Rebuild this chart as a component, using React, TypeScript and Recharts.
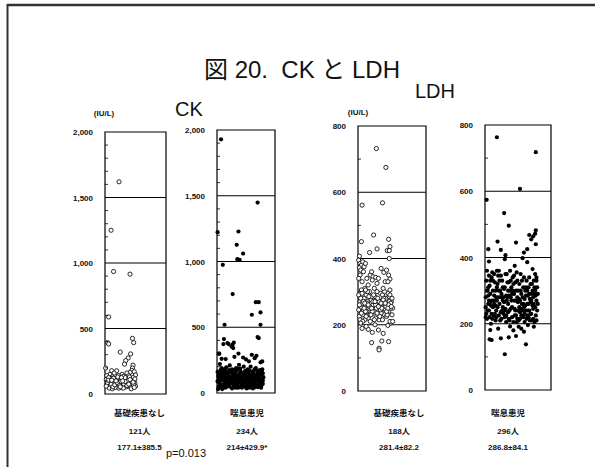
import React from 'react';
import {
  ScatterChart,
  Scatter,
  XAxis,
  YAxis,
  ReferenceLine,
  ReferenceArea,
} from 'recharts';

// [横位置(0-100), 値]
const ckNone: [number, number][] = [
  [23, 1620], [10, 1250], [14, 935], [41, 915], [6, 588], [4, 392], [6, 382], [45, 425], [47, 392], [25, 320],
  [42, 306], [38, 275], [34, 255], [32, 228], [46, 220], [45, 198], [1, 198], [11, 178], [19, 177], [44, 180],
  [41, 165], [48, 170], [36, 160], [28, 150], [8, 150], [15, 160], [22, 140], [30, 135], [3, 140], [12, 130],
  [39, 140], [50, 145],
  [2, 110], [5, 95], [7, 80], [9, 120], [11, 70], [13, 100], [15, 85], [17, 115], [19, 60], [21, 95],
  [23, 75], [25, 110], [27, 90], [29, 65], [31, 105], [33, 80], [35, 120], [37, 70], [39, 95], [41, 85],
  [43, 110], [45, 60], [47, 100], [49, 80],
  [3, 70], [6, 125], [8, 55], [10, 90], [12, 110], [14, 65], [16, 95], [18, 80], [20, 120], [22, 55],
  [24, 100], [26, 70], [28, 115], [30, 85], [32, 60], [34, 100], [36, 90], [38, 120], [40, 65], [42, 95],
  [44, 75], [46, 125], [48, 105], [50, 60],
  [4, 85], [7, 45], [9, 100], [12, 40], [14, 120], [17, 50], [19, 105], [21, 130], [23, 45], [26, 95],
  [28, 50], [31, 75], [33, 125], [35, 55], [37, 100], [40, 130], [42, 50], [44, 100], [47, 70], [49, 115],
  [2, 60], [5, 105], [10, 75], [13, 55], [16, 70], [20, 85], [24, 65], [27, 125], [30, 45], [33, 95],
  [36, 65], [39, 75], [43, 40], [46, 90], [48, 50], [18, 100], [29, 100], [41, 110], [11, 105], [25, 55],
];

const ckAsthma: [number, number][] = [
  [7, 1929], [70, 1448], [1, 1223], [37, 1228], [34, 1127], [45, 1061], [35, 1018], [39, 1013], [10, 975], [27, 752],
  [67, 691], [72, 691], [60, 595], [75, 613], [13, 519], [75, 519], [70, 425], [12, 410], [11, 372], [20, 372],
  [27, 368], [28, 342], [3, 299], [37, 300], [18, 380], [29, 384], [25, 353], [72, 418], [4, 299], [60, 290],
  [68, 283], [75, 233], [55, 241], [15, 258], [78, 240], [45, 270], [50, 255], [65, 265], [30, 275], [8, 260],
  [1, 90], [4, 150], [7, 60], [10, 120], [13, 180], [16, 45], [19, 100], [22, 210], [25, 75], [28, 140],
  [31, 55], [34, 170], [37, 95], [40, 130], [43, 40], [46, 200], [49, 110], [52, 65], [55, 155], [58, 85],
  [61, 125], [64, 50], [67, 190], [70, 100], [73, 70], [76, 145], [79, 95],
  [2, 130], [5, 70], [8, 190], [11, 100], [14, 40], [17, 160], [20, 85], [23, 120], [26, 35], [29, 175],
  [32, 110], [35, 60], [38, 215], [41, 90], [44, 150], [47, 50], [50, 125], [53, 180], [56, 40], [59, 105],
  [62, 165], [65, 75], [68, 130], [71, 45], [74, 175], [77, 60], [80, 120],
  [3, 50], [6, 175], [9, 95], [12, 65], [15, 140], [18, 110], [21, 50], [24, 160], [27, 90], [30, 125],
  [33, 70], [36, 185], [39, 45], [42, 115], [45, 80], [48, 165], [51, 35], [54, 130], [57, 95], [60, 60],
  [63, 150], [66, 100], [69, 55], [72, 160], [75, 85], [78, 180],
  [1, 160], [4, 105], [7, 125], [10, 55], [13, 80], [16, 195], [19, 140], [22, 70], [25, 115], [28, 60],
  [31, 150], [34, 90], [37, 50], [40, 185], [43, 120], [46, 75], [49, 155], [52, 100], [55, 55], [58, 200],
  [61, 80], [64, 140], [67, 110], [70, 150], [73, 125], [76, 40], [79, 150],
  [2, 85], [5, 220], [8, 140], [11, 160], [14, 95], [17, 70], [20, 150], [23, 90], [26, 180], [29, 110],
  [32, 40], [35, 135], [38, 80], [41, 160], [44, 65], [47, 140], [50, 90], [53, 55], [56, 170], [59, 135],
  [62, 35], [65, 180], [68, 85], [71, 120], [74, 100], [77, 165],
  [3, 115], [6, 45], [9, 165], [12, 140], [15, 60], [18, 125], [21, 175], [24, 105], [27, 130], [30, 75],
  [33, 190], [36, 110], [39, 150], [42, 60], [45, 105], [48, 85], [51, 150], [54, 75], [57, 130], [60, 110],
  [63, 95], [66, 45], [69, 170], [72, 85], [75, 135], [78, 100],
  [2, 30], [9, 30], [14, 115], [21, 120], [26, 150], [31, 95], [36, 40], [44, 95], [50, 170], [55, 115],
  [61, 145], [66, 130], [73, 50], [79, 70], [6, 100], [17, 130], [28, 95], [40, 105], [53, 145], [64, 95],
];

const ldhNone: [number, number][] = [
  [27, 732], [41, 675], [6, 561], [36, 568], [23, 471], [5, 451], [45, 458], [47, 436], [43, 424], [46, 424],
  [28, 429], [17, 418], [46, 400], [2, 407],
  [6, 189], [15, 186], [21, 177], [30, 184], [37, 174], [20, 146], [35, 151], [45, 149], [31, 129], [31, 124],
  [44, 198], [48, 205], [12, 195], [25, 200],
  [1, 395], [3, 385], [5, 380], [2, 372], [4, 365], [7, 390], [9, 375], [11, 385], [8, 360], [3, 350],
  [1, 340], [6, 330], [13, 340], [18, 350], [22, 345], [26, 343], [21, 335], [30, 340], [34, 370], [38, 358],
  [42, 365], [45, 350], [47, 338], [40, 330], [28, 325], [15, 320], [10, 310], [5, 305], [44, 330], [20, 360],
  [1, 290], [3, 270], [5, 250], [7, 230], [9, 280], [11, 260], [13, 240], [15, 220], [17, 300], [19, 275],
  [21, 255], [23, 235], [25, 285], [27, 265], [29, 245], [31, 215], [33, 295], [35, 270], [37, 250], [39, 230],
  [41, 280], [43, 260], [45, 240], [47, 210], [49, 270], [51, 250],
  [2, 225], [4, 280], [6, 265], [8, 245], [10, 215], [12, 290], [14, 270], [16, 250], [18, 230], [20, 285],
  [22, 260], [24, 240], [26, 220], [28, 300], [30, 275], [32, 255], [34, 235], [36, 290], [38, 265], [40, 245],
  [42, 225], [44, 295], [46, 270], [48, 250], [50, 230],
  [1, 245], [3, 215], [6, 295], [8, 270], [11, 240], [13, 265], [16, 285], [18, 210], [21, 240], [23, 290],
  [26, 260], [28, 235], [31, 270], [33, 245], [36, 215], [38, 280], [41, 255], [43, 230], [46, 285], [48, 265],
  [51, 210],
  [2, 260], [5, 235], [7, 210], [10, 265], [12, 225], [14, 300], [17, 255], [19, 230], [22, 270], [24, 215],
  [27, 250], [29, 280], [32, 225], [35, 250], [37, 275], [39, 300], [42, 240], [45, 260], [47, 290], [50, 280],
  [4, 205], [9, 250], [15, 260], [20, 250], [25, 270], [30, 255], [34, 265], [40, 265], [44, 250], [49, 255],
  [11, 305], [24, 310], [37, 310], [47, 305],
];

const ldhAsthma: [number, number][] = [
  [18, 763], [77, 718], [53, 607], [2.5, 574], [29, 534], [36, 496], [77, 482], [76, 472], [73, 464], [67, 468],
  [70, 455], [77, 440], [19, 448], [47, 445], [5, 425], [24, 423], [59, 415], [64, 425], [31, 407], [57, 398],
  [64, 386], [6, 388], [30, 395], [45, 375], [72, 365], [76, 350], [78, 340],
  [8, 181], [10, 151], [7, 153], [24, 156], [36, 159], [30, 108], [62, 138], [47, 163], [59, 176], [65, 196],
  [74, 191], [51, 191], [38, 192], [20, 185], [55, 185], [43, 180],
  [1, 250], [4, 300], [7, 220], [10, 340], [13, 270], [16, 210], [19, 320], [22, 260], [25, 290], [28, 230],
  [31, 350], [34, 280], [37, 240], [40, 310], [43, 205], [46, 270], [49, 330], [52, 250], [55, 290], [58, 220],
  [61, 300], [64, 260], [67, 340], [70, 230], [73, 280], [76, 250], [79, 310],
  [2, 330], [5, 260], [8, 290], [11, 215], [14, 350], [17, 240], [20, 280], [23, 210], [26, 330], [29, 265],
  [32, 225], [35, 300], [38, 360], [41, 250], [44, 290], [47, 225], [50, 300], [53, 215], [56, 260], [59, 340],
  [62, 240], [65, 285], [68, 210], [71, 320], [74, 260], [77, 225], [80, 290],
  [3, 215], [6, 345], [9, 255], [12, 300], [15, 230], [18, 360], [21, 225], [24, 345], [27, 250], [30, 310],
  [33, 270], [36, 215], [39, 280], [42, 340], [45, 245], [48, 205], [51, 275], [54, 350], [57, 240], [60, 275],
  [63, 215], [66, 310], [69, 265], [72, 300], [75, 205], [78, 270],
  [1, 280], [4, 240], [7, 315], [10, 270], [13, 225], [16, 300], [19, 250], [22, 330], [25, 215], [28, 280],
  [31, 245], [34, 325], [37, 210], [40, 270], [43, 320], [46, 240], [49, 280], [52, 320], [55, 225], [58, 310],
  [61, 255], [64, 225], [67, 290], [70, 270], [73, 215], [76, 300], [79, 240],
  [2, 230], [5, 310], [8, 265], [11, 355], [14, 285], [17, 220], [20, 345], [23, 280], [26, 240], [29, 305],
  [32, 285], [35, 235], [38, 300], [41, 220], [44, 345], [47, 300], [50, 240], [53, 270], [56, 330], [59, 250],
  [62, 310], [65, 240], [68, 275], [71, 210], [74, 330], [77, 285],
  [3, 300], [6, 240], [9, 200], [12, 250], [15, 325], [18, 270], [21, 300], [24, 235], [27, 310], [30, 220],
  [33, 350], [36, 285], [39, 245], [42, 300], [45, 225], [48, 355], [51, 210], [54, 300], [57, 280], [60, 205],
  [63, 330], [66, 260], [69, 230], [72, 255], [75, 290], [78, 210],
  [1, 220], [5, 285], [10, 230], [14, 260], [18, 310], [23, 300], [27, 270], [32, 205], [36, 325], [41, 290],
  [46, 325], [50, 265], [55, 245], [60, 230], [64, 300], [69, 320], [73, 245], [78, 330], [8, 330], [17, 280],
  [26, 280], [39, 330], [58, 260], [67, 240],
  [3, 360], [12, 330], [21, 360], [30, 240], [44, 270], [53, 235], [62, 285], [71, 290], [80, 260], [6, 270],
  [16, 255], [35, 260], [49, 215], [66, 220], [75, 310],
];

const groupNames = ['基礎疾患なし', '喘息患児', '基礎疾患なし', '喘息患児'];
const groupCounts = ['121人', '234人', '188人', '296人'];
const groupMeans = ['177.1±385.5', '214±429.9*', '281.4±82.2', '286.8±84.1'];

const ckTicks = [0, 100, 200, 300, 400, 500, 600, 700, 800, 900, 1000, 1100, 1200, 1300, 1400, 1500, 1600, 1700, 1800, 1900, 2000];
const ldhTicks = [0, 100, 200, 300, 400, 500, 600, 700, 800];

const FONT = '"Liberation Sans", Arial, "Noto Sans CJK JP", sans-serif';
const LABEL_Y = [416, 434, 450];
const PAD_L = 50;
const PAD_T = 10;

interface PanelProps {
  points: [number, number][];
  filled: boolean;
  idx: number;
  boxX: number;
  boxY: number;
  boxW: number;
  boxH: number;
  yMax: number;
  major: number;
  ticks: number[];
  labelShift: number;
}

function Panel({ points, filled, idx, boxX, boxY, boxW, boxH, yMax, major, ticks, labelShift }: PanelProps) {
  const data = points.map(([x, y]) => ({ x, y }));
  const width = PAD_L + boxW + 10;
  const height = PAD_T + boxH + 80;
  const bottom = boxY + boxH;

  const yTick = (props: any) => {
    const { x, y, payload } = props;
    const v = payload.value;
    return (
      <g>
        {v !== 0 && v !== yMax && v % major !== 0 && (
          <line x1={x} x2={x + 3} y1={y} y2={y} stroke="#000" strokeWidth={0.8} />
        )}
        {v % major === 0 && (
          <text x={x - 12} y={y} dy={3} textAnchor="end" fontSize={8} fontWeight="bold" fontFamily={FONT} fill="#111">
            {v.toLocaleString('en-US')}
          </text>
        )}
      </g>
    );
  };

  const xTick = (props: any) => {
    const { x, y } = props;
    const cx = x + labelShift;
    return (
      <g fontFamily={FONT} fill="#111" textAnchor="middle">
        <text x={cx} y={y + LABEL_Y[0] - bottom} fontSize={8.5} fontWeight="bold" fontFamily='"Noto Sans CJK JP", sans-serif'>
          {groupNames[idx]}
        </text>
        <text x={cx} y={y + LABEL_Y[1] - bottom} fontSize={8} fontWeight="bold">{groupCounts[idx]}</text>
        <text x={cx} y={y + LABEL_Y[2] - bottom} fontSize={8} fontWeight="bold">{groupMeans[idx]}</text>
      </g>
    );
  };

  const dot = (props: any) => {
    const { cx, cy } = props;
    return filled ? (
      <circle cx={cx} cy={cy} r={2.1} fill="#000" />
    ) : (
      <circle cx={cx} cy={cy} r={2.1} fill="#fff" stroke="#111" strokeWidth={0.9} />
    );
  };

  return (
    <div style={{ position: 'absolute', left: boxX - PAD_L, top: boxY - PAD_T }}>
      <ScatterChart width={width} height={height} margin={{ top: PAD_T, right: 10, bottom: 0, left: 0 }}>
        <XAxis
          type="number"
          dataKey="x"
          domain={[0, 100]}
          ticks={[50]}
          axisLine={false}
          tickLine={false}
          tickSize={0}
          tickMargin={0}
          height={80}
          tick={xTick}
        />
        <YAxis
          type="number"
          dataKey="y"
          domain={[0, yMax]}
          ticks={ticks}
          interval={0}
          axisLine={false}
          tickLine={false}
          tickSize={0}
          tickMargin={0}
          width={PAD_L}
          tick={yTick}
        />
        {ticks
          .filter((t) => t > 0 && t < yMax && t % major === 0)
          .map((t) => (
            <ReferenceLine key={t} y={t} stroke="#000" strokeWidth={1.2} />
          ))}
        <ReferenceArea x1={0} x2={100} y1={0} y2={yMax} fill="none" stroke="#000" strokeWidth={1.2} />
        <Scatter data={data} shape={dot} isAnimationActive={false} />
      </ScatterChart>
    </div>
  );
}

export default function App() {
  return (
    <div style={{ position: 'absolute', left: 0, top: 0, width: 595, height: 467, background: '#fff', overflow: 'hidden' }}>
      <Panel points={ckNone} filled={false} idx={0} boxX={105} boxY={132} boxW={61} boxH={262} yMax={2000} major={500} ticks={ckTicks} labelShift={4} />
      <Panel points={ckAsthma} filled idx={1} boxX={217} boxY={130} boxW={58} boxH={263} yMax={2000} major={500} ticks={ckTicks} labelShift={1} />
      <Panel points={ldhNone} filled={false} idx={2} boxX={358} boxY={126} boxW={68} boxH={265} yMax={800} major={200} ticks={ldhTicks} labelShift={7} />
      <Panel points={ldhAsthma} filled idx={3} boxX={485} boxY={125} boxW={66} boxH={265} yMax={800} major={200} ticks={ldhTicks} labelShift={-10} />
      <svg width={595} height={467} style={{ position: 'absolute', left: 0, top: 0, pointerEvents: 'none' }}>
        <line x1={7} x2={595} y1={5} y2={5} stroke="#333" strokeWidth={2.5} />
        <line x1={7.5} x2={7.5} y1={4} y2={467} stroke="#333" strokeWidth={2} />
        <text x={302} y={78} textAnchor="middle" fontSize={24} fontFamily={FONT} fill="#111" style={{ whiteSpace: 'pre' }}>
          {'図 20.  CK と LDH'}
        </text>
        <text x={189} y={116} textAnchor="middle" fontSize={20} fontFamily={FONT} fill="#111">CK</text>
        <text x={435} y={98} textAnchor="middle" fontSize={20} fontFamily={FONT} fill="#111">LDH</text>
        <text x={104} y={116} textAnchor="middle" fontSize={8} fontWeight="bold" fontFamily={FONT} fill="#111">(IU/L)</text>
        <text x={358} y={115} textAnchor="middle" fontSize={8} fontWeight="bold" fontFamily={FONT} fill="#111">(IU/L)</text>
        <text x={186} y={457} textAnchor="middle" fontSize={11} fontFamily={FONT} fill="#111">p=0.013</text>
      </svg>
    </div>
  );
}
